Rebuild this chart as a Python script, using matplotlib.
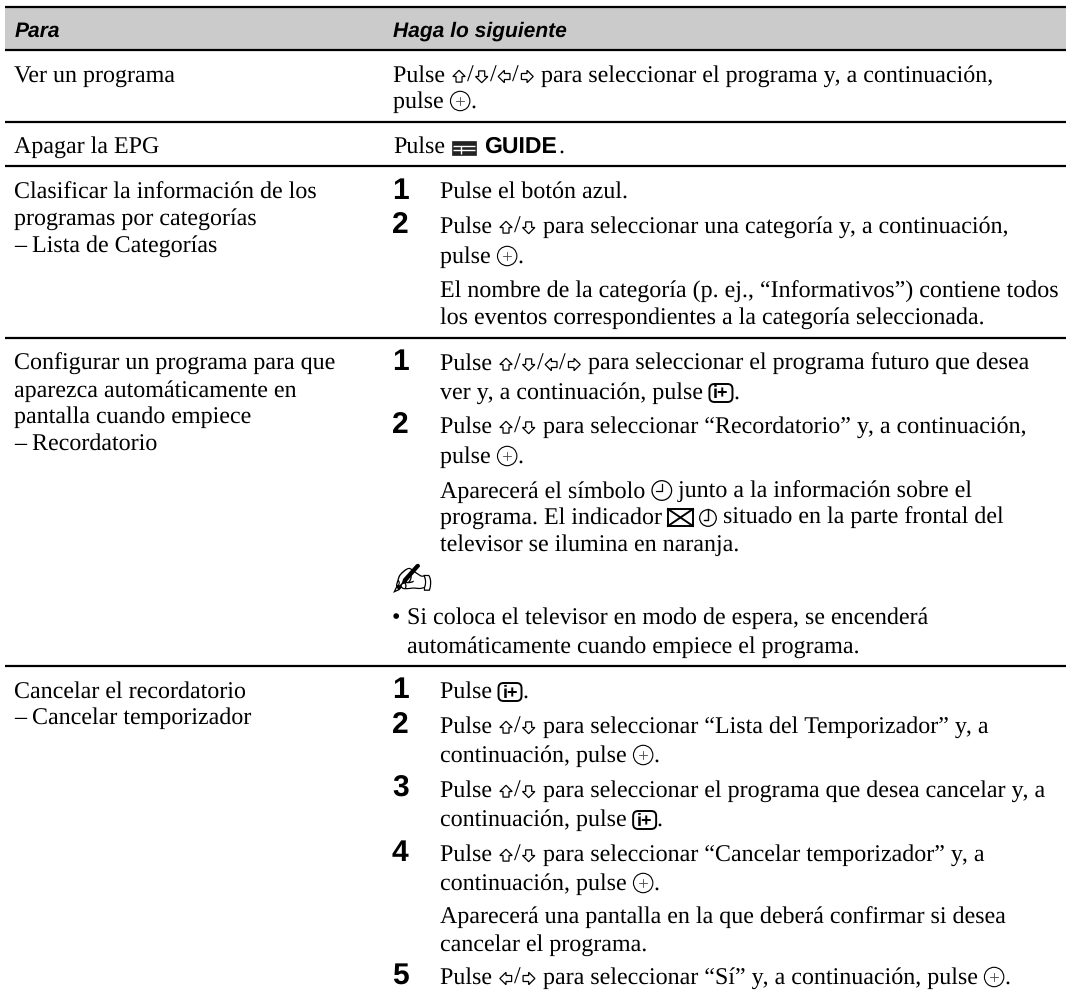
import matplotlib
matplotlib.use("Agg")
import matplotlib.pyplot as plt
from matplotlib.font_manager import FontProperties
from matplotlib.patches import Circle, Polygon, Rectangle, FancyBboxPatch

plt.rcParams['text.hinting'] = 'none'
plt.rcParams['text.hinting_factor'] = 1

W, H = 1066, 990
SERIF = ['Liberation Serif', 'DejaVu Sans']
SANS = ['Liberation Sans', 'DejaVu Sans']

headers = ["Para", "Haga lo siguiente"]
left_col = [
    "Ver un programa", "Apagar la EPG",
    "Clasificar la información de los", "programas por categorías", "– Lista de Categorías",
    "Configurar un programa para que", "aparezca automáticamente en", "pantalla cuando empiece", "– Recordatorio",
    "Cancelar el recordatorio", "– Cancelar temporizador",
]
left_y = [82, 153, 199, 225, 252, 370, 397, 423, 450, 698, 724]

numbers = ["1", "2", "1", "2", "1", "2", "3", "4", "5"]
number_y = [199, 233, 370, 433, 698, 733, 797, 861, 984]

COL_A, COL_B, COL_C = 393, 440, 407
right_lines = [
    ("Pulse ⇧/⇩/⇦/⇨ para seleccionar el programa y, a continuación,", COL_A, 82),
    ("pulse ⊕.", COL_A, 108),
    ("Pulse el botón azul.", COL_B, 199),
    ("Pulse ⇧/⇩ para seleccionar una categoría y, a continuación,", COL_B, 233),
    ("pulse ⊕.", COL_B, 263),
    ("El nombre de la categoría (p. ej., “Informativos”) contiene todos", COL_B, 298),
    ("los eventos correspondientes a la categoría seleccionada.", COL_B, 324),
    ("Pulse ⇧/⇩/⇦/⇨ para seleccionar el programa futuro que desea", COL_B, 370),
    ("ver y, a continuación, pulse ⊞.", COL_B, 399),
    ("Pulse ⇧/⇩ para seleccionar “Recordatorio” y, a continuación,", COL_B, 433),
    ("pulse ⊕.", COL_B, 463),
    ("Aparecerá el símbolo ◷ junto a la información sobre el", COL_B, 498),
    ("programa. El indicador ⊠ ◴ situado en la parte frontal del", COL_B, 524),
    ("televisor se ilumina en naranja.", COL_B, 551),
    ("Si coloca el televisor en modo de espera, se encenderá", COL_C, 624),
    ("automáticamente cuando empiece el programa.", COL_C, 653),
    ("Pulse ⊞.", COL_B, 698),
    ("Pulse ⇧/⇩ para seleccionar “Lista del Temporizador” y, a", COL_B, 733),
    ("continuación, pulse ⊕.", COL_B, 762),
    ("Pulse ⇧/⇩ para seleccionar el programa que desea cancelar y, a", COL_B, 797),
    ("continuación, pulse ⊞.", COL_B, 826),
    ("Pulse ⇧/⇩ para seleccionar “Cancelar temporizador” y, a", COL_B, 861),
    ("continuación, pulse ⊕.", COL_B, 890),
    ("Aparecerá una pantalla en la que deberá confirmar si desea", COL_B, 924),
    ("cancelar el programa.", COL_B, 951),
    ("Pulse ⇦/⇨ para seleccionar “Sí” y, a continuación, pulse ⊕.", COL_B, 984),
]
rules = [7, 50, 122, 166, 338, 666]

fig = plt.figure(figsize=(W / 100, H / 100), dpi=100, facecolor='white')
ax = fig.add_axes([0, 0, 1, 1])
ax.set_xlim(0, W)
ax.set_ylim(H, 0)
ax.axis('off')
renderer = fig.canvas.get_renderer()

LEFT = 5
ax.add_patch(Rectangle((LEFT, rules[0]), W - LEFT, rules[1] - rules[0], fc='#cbcbcb', lw=0, zorder=0))
ax.hlines(rules, LEFT, W, color='black', lw=1.6, zorder=1)

FS = 17.25
prop = FontProperties(family=SERIF, size=FS)


def text_width(s):
    w0 = renderer.get_text_width_height_descent("xx", prop, False)[0]
    w1 = renderer.get_text_width_height_descent("x" + s + "x", prop, False)[0]
    return (w1 - w0) * 100 / fig.dpi


def arrow(x, y, angle):
    # outline block arrow, rotated by quarter turns (y axis points down)
    base = [(0, -6.2), (6.2, 0), (3, 0), (3, 5.6), (-3, 5.6), (-3, 0), (-6.2, 0)]
    rot = {'up': lambda a, b: (a, b), 'down': lambda a, b: (-a, -b),
           'left': lambda a, b: (b, -a), 'right': lambda a, b: (-b, a)}[angle]
    pts = [(x + rot(a, b)[0], y + rot(a, b)[1]) for a, b in base]
    ax.add_patch(Polygon(pts, closed=True, fc='white', ec='black', lw=0.9, zorder=3))


def icon(ch, x, y):
    """Draw an inline remote-control symbol; return its advance width."""
    if ch in '⇧⇩⇦⇨':
        angle = {'⇧': 'up', '⇩': 'down', '⇦': 'left', '⇨': 'right'}[ch]
        arrow(x + 8, y - 5.5, angle)
        return 16
    if ch == '⊕':
        cx, cy = x + 10.5, y - 7
        ax.add_patch(Circle((cx, cy), 9.7, fc='none', ec='black', lw=0.8, zorder=3))
        ax.plot([cx - 4, cx + 4], [cy, cy], color='#444444', lw=0.6, zorder=3)
        ax.plot([cx, cx], [cy - 4, cy + 4], color='#444444', lw=0.6, zorder=3)
        return 21
    if ch == '⊞':
        ax.add_patch(FancyBboxPatch((x + 0.5, y - 15), 23, 18, boxstyle='round,pad=0,rounding_size=5',
                                    fc='none', ec='black', lw=1.4, zorder=3))
        ax.text(x + 12, y - 0.5, "i+", family=SANS, fontsize=13, fontweight='bold',
                ha='center', va='baseline', zorder=3)
        return 24
    if ch == '◷':
        cx, cy = x + 10.5, y - 7.5
        ax.add_patch(Circle((cx, cy), 9.8, fc='none', ec='black', lw=0.9, zorder=3))
        ax.plot([cx - 6, cx, cx], [cy, cy, cy - 6.5], color='black', lw=0.9, zorder=3)
        return 21
    if ch == '◴':
        cx, cy = x + 9, y - 6
        ax.add_patch(Circle((cx, cy), 8.3, fc='none', ec='black', lw=0.9, zorder=3))
        ax.plot([cx - 4, cx, cx], [cy + 2, cy + 2, cy - 9], color='black', lw=1.0, zorder=4)
        return 18
    if ch == '⊠':
        ax.add_patch(Rectangle((x, y - 15), 25, 17, fc='none', ec='black', lw=1.4, zorder=3))
        ax.plot([x, x + 25], [y - 15, y + 2], color='black', lw=1.4, zorder=3)
        ax.plot([x, x + 25], [y + 2, y - 15], color='black', lw=1.4, zorder=3)
        return 25
    return 0


def draw_line(s, x, y):
    buf = ""
    for ch in s:
        if ch in '⇧⇩⇦⇨⊕⊞◷◴⊠':
            if buf:
                ax.text(x, y, buf, family=SERIF, fontsize=FS, va='baseline', ha='left')
                x += text_width(buf)
                buf = ""
            x += icon(ch, x, y)
        else:
            buf += ch
    if buf:
        ax.text(x, y, buf, family=SERIF, fontsize=FS, va='baseline', ha='left')


for x, t in zip((15, 393), headers):
    ax.text(x, 37, t, family=SANS, fontsize=15.4, fontweight='bold', fontstyle='italic',
            va='baseline', ha='left')
for t, y in zip(left_col, left_y):
    ax.text(14, y, t, family=SERIF, fontsize=FS, va='baseline', ha='left')
for t, y in zip(numbers, number_y):
    ax.text(392, y, t, family=SANS, fontsize=21.5, fontweight='bold', va='baseline', ha='left')
for t, x, y in right_lines:
    draw_line(t, x, y)

# "Pulse [guide icon] GUIDE."
ax.text(393, 153, "Pulse", family=SERIF, fontsize=FS, va='baseline', ha='left')
ax.add_patch(Rectangle((452, 141), 24, 14, fc='#222222', ec='#222222', lw=0.5, zorder=3))
ax.hlines([145.5, 150], 453, 475, color='white', lw=1.0, zorder=4)
ax.vlines(461, 146, 154, color='white', lw=1.0, zorder=4)
ax.text(484, 153, "GUIDE", family=SANS, fontsize=16.8, fontweight='bold', va='baseline', ha='left')
ax.text(558, 153, ".", family=SERIF, fontsize=FS, va='baseline', ha='left')

ax.text(392, 597, "✍", family=SERIF, fontsize=35, va='baseline', ha='left')
ax.text(392, 624, "•", family=SERIF, fontsize=FS, va='baseline', ha='left')

fig.savefig('out.png', dpi=100)
